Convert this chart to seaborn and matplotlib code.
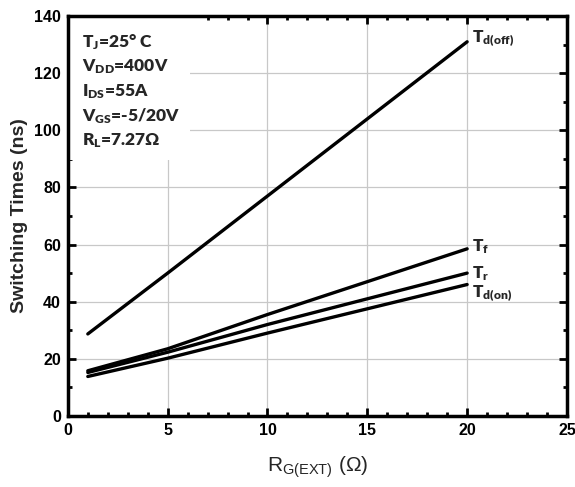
import matplotlib
matplotlib.use("Agg")
import matplotlib.pyplot as plt
import seaborn as sns
import pandas as pd
from matplotlib.patches import Rectangle
from matplotlib.ticker import MultipleLocator

# ---- data ----
rg = [1, 5, 10, 15, 20]
td_off = [28.7, 50.0, 77.0, 104.0, 131.0]
t_f = [15.8, 23.5, 35.5, 47.0, 58.5]
t_r = [15.2, 22.3, 32.0, 41.0, 50.0]
td_on = [13.8, 20.2, 29.0, 37.5, 46.0]
series_names = ["Td(off)", "Tf", "Tr", "Td(on)"]
series_labels = [r"T$_{\mathbf{d(off)}}$", r"T$_{\mathbf{f}}$",
                 r"T$_{\mathbf{r}}$", r"T$_{\mathbf{d(on)}}$"]
conditions = [r"T$_{\mathbf{J}}$=25° C",
              r"V$_{\mathbf{DD}}$=400V",
              r"I$_{\mathbf{DS}}$=55A",
              r"V$_{\mathbf{GS}}$=-5/20V",
              r"R$_{\mathbf{L}}$=7.27Ω"]
xticks = [0, 5, 10, 15, 20, 25]
yticks = [0, 20, 40, 60, 80, 100, 120, 140]

TXT_FONT = "Lato"
TXT_WEIGHT = "heavy"

sns.set_theme(style="white")
plt.rcParams["font.family"] = ["Liberation Sans", "DejaVu Sans"]
plt.rcParams["mathtext.fontset"] = "custom"
plt.rcParams["mathtext.rm"] = "Liberation Sans"
plt.rcParams["mathtext.bf"] = TXT_FONT + ":" + TXT_WEIGHT
plt.rcParams["mathtext.it"] = "Liberation Sans:italic"

df = pd.DataFrame({
    "RG": rg * 4,
    "t": td_off + t_f + t_r + td_on,
    "series": sum([[n] * len(rg) for n in series_names], []),
})

fig = plt.figure(figsize=(5.75, 4.87), dpi=100)
ax = fig.add_axes([0.118, 0.146, 0.868, 0.821])

sns.lineplot(data=df, x="RG", y="t", hue="series", palette=["black"] * 4,
             linewidth=2.4, legend=False, ax=ax, zorder=3)

ax.set_xlim(0, 25)
ax.set_ylim(0, 140)
ax.set_xticks(xticks)
ax.set_yticks(yticks)
ax.xaxis.set_minor_locator(MultipleLocator(1))
ax.yaxis.set_minor_locator(MultipleLocator(10))
ax.grid(True, which="major", color="#c8c8c8", linewidth=0.9)
ax.set_axisbelow(True)
ax.tick_params(which="both", direction="in", top=True, right=True,
               bottom=True, left=True, width=2, colors="black")
ax.tick_params(which="major", length=6, labelsize=11.5, pad=5)
ax.tick_params(which="minor", length=3)
for lab in ax.get_xticklabels() + ax.get_yticklabels():
    lab.set_fontweight("bold")
    lab.set_fontfamily("Liberation Sans")
for sp in ax.spines.values():
    sp.set_linewidth(2.5)
    sp.set_color("black")

ax.set_xlabel(r"R$_{\mathrm{G(EXT)}}$ (Ω)", fontsize=15, labelpad=12,
              fontfamily="Liberation Sans")
ax.set_ylabel("Switching Times (ns)", fontsize=14, fontweight="bold",
              labelpad=4, fontfamily="Liberation Sans")

# white box behind the test conditions
ax.add_patch(Rectangle((0, 89.5), 6.1, 50.5, facecolor="white",
                       edgecolor="none", zorder=1.5))
for i, s in enumerate(conditions):
    ax.text(0.028, 0.935 - i * 0.0615, s, transform=ax.transAxes,
            fontsize=12.5, fontfamily=TXT_FONT, fontweight=TXT_WEIGHT,
            va="center", ha="left", zorder=4)

# series labels at line ends
label_y = [td_off[-1] + 1.0, t_f[-1] + 0.8, t_r[-1] - 0.1, td_on[-1] - 3.2]
for lbl, yv in zip(series_labels, label_y):
    ax.text(rg[-1] + 0.25, yv, lbl, fontsize=12.5, fontfamily=TXT_FONT,
            fontweight=TXT_WEIGHT, va="center", ha="left", zorder=4)

fig.savefig("out.png", dpi=100)
